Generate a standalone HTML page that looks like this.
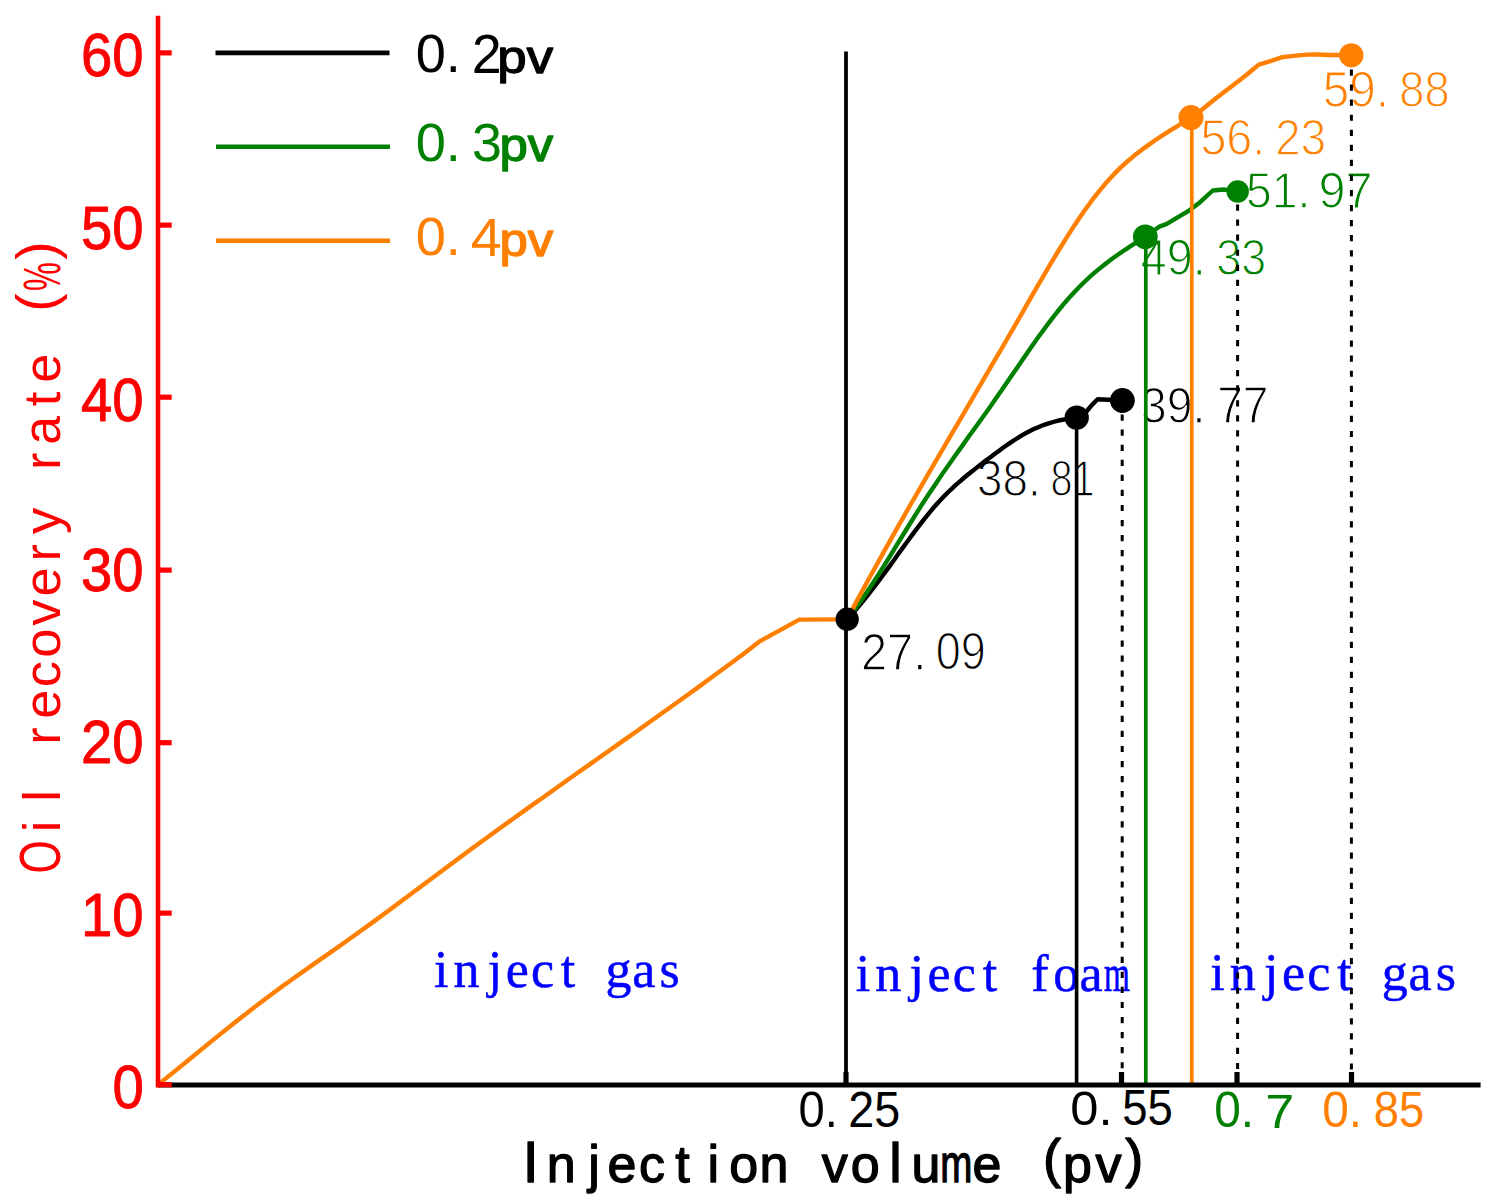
<!DOCTYPE html>
<html><head><meta charset="utf-8"><title>Oil recovery rate chart</title><style>html,body{margin:0;padding:0;background:#fff;width:1497px;height:1204px;overflow:hidden}svg{display:block}body{font-family:"Liberation Sans",sans-serif}</style></head><body>
<svg width="1497" height="1204" viewBox="0 0 1497 1204">
<rect width="1497" height="1204" fill="#fff"/>
<text transform="matrix(0.93 0 0 1 81.05 76.14)" font-family="'Liberation Sans', sans-serif" font-size="60.56" fill="#ff0000" stroke="#ff0000" stroke-width="0.9" stroke-linejoin="round">60</text>
<text transform="matrix(0.93 0 0 1 81.05 248.54)" font-family="'Liberation Sans', sans-serif" font-size="60.56" fill="#ff0000" stroke="#ff0000" stroke-width="0.9" stroke-linejoin="round">50</text>
<text transform="matrix(0.93 0 0 1 81.05 420.64)" font-family="'Liberation Sans', sans-serif" font-size="60.56" fill="#ff0000" stroke="#ff0000" stroke-width="0.9" stroke-linejoin="round">40</text>
<text transform="matrix(0.93 0 0 1 81.05 591.49)" font-family="'Liberation Sans', sans-serif" font-size="60.56" fill="#ff0000" stroke="#ff0000" stroke-width="0.9" stroke-linejoin="round">30</text>
<text transform="matrix(0.93 0 0 1 81.05 763.49)" font-family="'Liberation Sans', sans-serif" font-size="60.56" fill="#ff0000" stroke="#ff0000" stroke-width="0.9" stroke-linejoin="round">20</text>
<text transform="matrix(0.93 0 0 1 81.05 935.89)" font-family="'Liberation Sans', sans-serif" font-size="60.56" fill="#ff0000" stroke="#ff0000" stroke-width="0.9" stroke-linejoin="round">10</text>
<text transform="matrix(0.93 0 0 1 112.59 1107.89)" font-family="'Liberation Sans', sans-serif" font-size="60.56" fill="#ff0000" stroke="#ff0000" stroke-width="0.9" stroke-linejoin="round">0</text>
<text transform="matrix(0 -0.7395 1 0 59.80 873.60)" font-family="'Liberation Sans', sans-serif" font-weight="normal" font-size="57.75" fill="#ff0000">O</text>
<text transform="matrix(0 -1.0000 1 0 59.80 832.27)" font-family="'Liberation Sans', sans-serif" font-weight="normal" font-size="52.50" fill="#ff0000">i</text>
<text transform="matrix(0 -1.0000 1 0 59.80 801.74)" font-family="'Liberation Sans', sans-serif" font-weight="normal" font-size="52.50" fill="#ff0000">l</text>
<text transform="matrix(0 -1.0000 1 0 59.80 744.85)" font-family="'Liberation Sans', sans-serif" font-weight="normal" font-size="52.50" fill="#ff0000">r</text>
<text transform="matrix(0 -1.0000 1 0 59.80 718.80)" font-family="'Liberation Sans', sans-serif" font-weight="normal" font-size="52.50" fill="#ff0000">e</text>
<text transform="matrix(0 -1.0000 1 0 59.80 687.25)" font-family="'Liberation Sans', sans-serif" font-weight="normal" font-size="52.50" fill="#ff0000">c</text>
<text transform="matrix(0 -1.0000 1 0 59.80 657.75)" font-family="'Liberation Sans', sans-serif" font-weight="normal" font-size="52.50" fill="#ff0000">o</text>
<text transform="matrix(0 -1.0000 1 0 59.80 625.73)" font-family="'Liberation Sans', sans-serif" font-weight="normal" font-size="52.50" fill="#ff0000">v</text>
<text transform="matrix(0 -1.0000 1 0 59.80 596.60)" font-family="'Liberation Sans', sans-serif" font-weight="normal" font-size="52.50" fill="#ff0000">e</text>
<text transform="matrix(0 -1.0000 1 0 59.80 561.55)" font-family="'Liberation Sans', sans-serif" font-weight="normal" font-size="52.50" fill="#ff0000">r</text>
<text transform="matrix(0 -1.0000 1 0 59.80 534.09)" font-family="'Liberation Sans', sans-serif" font-weight="normal" font-size="52.50" fill="#ff0000">y</text>
<text transform="matrix(0 -1.0000 1 0 59.80 469.90)" font-family="'Liberation Sans', sans-serif" font-weight="normal" font-size="52.50" fill="#ff0000">r</text>
<text transform="matrix(0 -0.9827 1 0 59.80 444.74)" font-family="'Liberation Sans', sans-serif" font-weight="normal" font-size="52.50" fill="#ff0000">a</text>
<text transform="matrix(0 -1.0000 1 0 59.80 406.25)" font-family="'Liberation Sans', sans-serif" font-weight="normal" font-size="52.50" fill="#ff0000">t</text>
<text transform="matrix(0 -1.0000 1 0 59.80 382.75)" font-family="'Liberation Sans', sans-serif" font-weight="normal" font-size="52.50" fill="#ff0000">e</text>
<text transform="matrix(0 -1.0000 1 0 54.80 311.83)" font-family="'Liberation Sans', sans-serif" font-weight="normal" font-size="55.12" fill="#ff0000">(</text>
<text transform="matrix(0 -0.6172 1 0 59.80 290.95)" font-family="'Liberation Sans', sans-serif" font-weight="normal" font-size="52.50" fill="#ff0000">%</text>
<text transform="matrix(0 -1.0000 1 0 54.80 259.63)" font-family="'Liberation Sans', sans-serif" font-weight="normal" font-size="55.12" fill="#ff0000">)</text>
<text transform="matrix(1.0000 0 0 1 522.85 1182.40)" font-family="'Liberation Sans', sans-serif" font-weight="normal" font-size="57.20" fill="#000000" stroke="#000000" stroke-width="1.3" stroke-linejoin="round">I</text>
<text transform="matrix(1.0000 0 0 1 546.70 1182.40)" font-family="'Liberation Sans', sans-serif" font-weight="normal" font-size="52.00" fill="#000000" stroke="#000000" stroke-width="1.3" stroke-linejoin="round">n</text>
<text transform="matrix(1.0000 0 0 1 588.21 1182.40)" font-family="'Liberation Sans', sans-serif" font-weight="normal" font-size="52.00" fill="#000000" stroke="#000000" stroke-width="1.3" stroke-linejoin="round">j</text>
<text transform="matrix(1.0000 0 0 1 607.59 1182.40)" font-family="'Liberation Sans', sans-serif" font-weight="normal" font-size="52.00" fill="#000000" stroke="#000000" stroke-width="1.3" stroke-linejoin="round">e</text>
<text transform="matrix(1.0000 0 0 1 638.98 1182.40)" font-family="'Liberation Sans', sans-serif" font-weight="normal" font-size="52.00" fill="#000000" stroke="#000000" stroke-width="1.3" stroke-linejoin="round">c</text>
<text transform="matrix(1.0000 0 0 1 675.37 1182.40)" font-family="'Liberation Sans', sans-serif" font-weight="normal" font-size="52.00" fill="#000000" stroke="#000000" stroke-width="1.3" stroke-linejoin="round">t</text>
<text transform="matrix(1.0000 0 0 1 707.44 1182.40)" font-family="'Liberation Sans', sans-serif" font-weight="normal" font-size="52.00" fill="#000000" stroke="#000000" stroke-width="1.3" stroke-linejoin="round">i</text>
<text transform="matrix(1.0000 0 0 1 729.14 1182.40)" font-family="'Liberation Sans', sans-serif" font-weight="normal" font-size="52.00" fill="#000000" stroke="#000000" stroke-width="1.3" stroke-linejoin="round">o</text>
<text transform="matrix(1.0000 0 0 1 759.50 1182.40)" font-family="'Liberation Sans', sans-serif" font-weight="normal" font-size="52.00" fill="#000000" stroke="#000000" stroke-width="1.3" stroke-linejoin="round">n</text>
<text transform="matrix(1.0000 0 0 1 821.80 1182.40)" font-family="'Liberation Sans', sans-serif" font-weight="normal" font-size="52.00" fill="#000000" stroke="#000000" stroke-width="1.3" stroke-linejoin="round">v</text>
<text transform="matrix(1.0000 0 0 1 850.74 1182.40)" font-family="'Liberation Sans', sans-serif" font-weight="normal" font-size="52.00" fill="#000000" stroke="#000000" stroke-width="1.3" stroke-linejoin="round">o</text>
<text transform="matrix(1.0000 0 0 1 889.35 1182.40)" font-family="'Liberation Sans', sans-serif" font-weight="normal" font-size="56.16" fill="#000000" stroke="#000000" stroke-width="1.3" stroke-linejoin="round">l</text>
<text transform="matrix(1.0000 0 0 1 911.58 1182.40)" font-family="'Liberation Sans', sans-serif" font-weight="normal" font-size="52.00" fill="#000000" stroke="#000000" stroke-width="1.3" stroke-linejoin="round">u</text>
<text transform="matrix(0.7410 0 0 1 940.34 1182.40)" font-family="'Liberation Sans', sans-serif" font-weight="normal" font-size="52.00" fill="#000000" stroke="#000000" stroke-width="1.3" stroke-linejoin="round">m</text>
<text transform="matrix(1.0000 0 0 1 972.39 1182.40)" font-family="'Liberation Sans', sans-serif" font-weight="normal" font-size="52.00" fill="#000000" stroke="#000000" stroke-width="1.3" stroke-linejoin="round">e</text>
<text transform="matrix(1.0000 0 0 1 1043.08 1176.90)" font-family="'Liberation Sans', sans-serif" font-weight="normal" font-size="54.08" fill="#000000" stroke="#000000" stroke-width="1.3" stroke-linejoin="round">(</text>
<text transform="matrix(1.0000 0 0 1 1062.96 1182.40)" font-family="'Liberation Sans', sans-serif" font-weight="normal" font-size="52.00" fill="#000000" stroke="#000000" stroke-width="1.3" stroke-linejoin="round">p</text>
<text transform="matrix(1.0000 0 0 1 1095.40 1182.40)" font-family="'Liberation Sans', sans-serif" font-weight="normal" font-size="52.00" fill="#000000" stroke="#000000" stroke-width="1.3" stroke-linejoin="round">v</text>
<text transform="matrix(1.0000 0 0 1 1125.31 1176.90)" font-family="'Liberation Sans', sans-serif" font-weight="normal" font-size="54.08" fill="#000000" stroke="#000000" stroke-width="1.3" stroke-linejoin="round">)</text>
<text transform="matrix(1.0000 0 0 1 433.93 987.10)" font-family="'Liberation Serif', serif" font-weight="normal" font-size="52.00" fill="#0000ff" stroke="#0000ff" stroke-width="0.5" stroke-linejoin="round">i</text>
<text transform="matrix(1.0000 0 0 1 453.40 987.10)" font-family="'Liberation Serif', serif" font-weight="normal" font-size="52.00" fill="#0000ff" stroke="#0000ff" stroke-width="0.5" stroke-linejoin="round">n</text>
<text transform="matrix(1.0000 0 0 1 487.76 987.10)" font-family="'Liberation Serif', serif" font-weight="normal" font-size="52.00" fill="#0000ff" stroke="#0000ff" stroke-width="0.5" stroke-linejoin="round">j</text>
<text transform="matrix(1.0000 0 0 1 505.75 987.10)" font-family="'Liberation Serif', serif" font-weight="normal" font-size="52.00" fill="#0000ff" stroke="#0000ff" stroke-width="0.5" stroke-linejoin="round">e</text>
<text transform="matrix(1.0000 0 0 1 531.07 987.10)" font-family="'Liberation Serif', serif" font-weight="normal" font-size="52.00" fill="#0000ff" stroke="#0000ff" stroke-width="0.5" stroke-linejoin="round">c</text>
<text transform="matrix(1.0000 0 0 1 560.87 987.10)" font-family="'Liberation Serif', serif" font-weight="normal" font-size="52.00" fill="#0000ff" stroke="#0000ff" stroke-width="0.5" stroke-linejoin="round">t</text>
<text transform="matrix(1.0000 0 0 1 605.38 987.10)" font-family="'Liberation Serif', serif" font-weight="normal" font-size="52.00" fill="#0000ff" stroke="#0000ff" stroke-width="0.5" stroke-linejoin="round">g</text>
<text transform="matrix(1.0000 0 0 1 632.30 987.10)" font-family="'Liberation Serif', serif" font-weight="normal" font-size="52.00" fill="#0000ff" stroke="#0000ff" stroke-width="0.5" stroke-linejoin="round">a</text>
<text transform="matrix(1.0000 0 0 1 659.55 987.10)" font-family="'Liberation Serif', serif" font-weight="normal" font-size="52.00" fill="#0000ff" stroke="#0000ff" stroke-width="0.5" stroke-linejoin="round">s</text>
<text transform="matrix(1.0000 0 0 1 855.73 990.80)" font-family="'Liberation Serif', serif" font-weight="normal" font-size="52.00" fill="#0000ff" stroke="#0000ff" stroke-width="0.5" stroke-linejoin="round">i</text>
<text transform="matrix(1.0000 0 0 1 875.20 990.80)" font-family="'Liberation Serif', serif" font-weight="normal" font-size="52.00" fill="#0000ff" stroke="#0000ff" stroke-width="0.5" stroke-linejoin="round">n</text>
<text transform="matrix(1.0000 0 0 1 909.56 990.80)" font-family="'Liberation Serif', serif" font-weight="normal" font-size="52.00" fill="#0000ff" stroke="#0000ff" stroke-width="0.5" stroke-linejoin="round">j</text>
<text transform="matrix(1.0000 0 0 1 927.55 990.80)" font-family="'Liberation Serif', serif" font-weight="normal" font-size="52.00" fill="#0000ff" stroke="#0000ff" stroke-width="0.5" stroke-linejoin="round">e</text>
<text transform="matrix(1.0000 0 0 1 952.87 990.80)" font-family="'Liberation Serif', serif" font-weight="normal" font-size="52.00" fill="#0000ff" stroke="#0000ff" stroke-width="0.5" stroke-linejoin="round">c</text>
<text transform="matrix(1.0000 0 0 1 982.67 990.80)" font-family="'Liberation Serif', serif" font-weight="normal" font-size="52.00" fill="#0000ff" stroke="#0000ff" stroke-width="0.5" stroke-linejoin="round">t</text>
<text transform="matrix(1.0000 0 0 1 1031.34 990.80)" font-family="'Liberation Serif', serif" font-weight="normal" font-size="52.00" fill="#0000ff" stroke="#0000ff" stroke-width="0.5" stroke-linejoin="round">f</text>
<text transform="matrix(1.0000 0 0 1 1053.20 990.80)" font-family="'Liberation Serif', serif" font-weight="normal" font-size="52.00" fill="#0000ff" stroke="#0000ff" stroke-width="0.5" stroke-linejoin="round">o</text>
<text transform="matrix(1.0000 0 0 1 1079.50 990.80)" font-family="'Liberation Serif', serif" font-weight="normal" font-size="52.00" fill="#0000ff" stroke="#0000ff" stroke-width="0.5" stroke-linejoin="round">a</text>
<text transform="matrix(0.6486 0 0 1 1103.79 990.80)" font-family="'Liberation Serif', serif" font-weight="normal" font-size="52.00" fill="#0000ff" stroke="#0000ff" stroke-width="0.5" stroke-linejoin="round">m</text>
<text transform="matrix(1.0000 0 0 1 1210.23 990.40)" font-family="'Liberation Serif', serif" font-weight="normal" font-size="52.00" fill="#0000ff" stroke="#0000ff" stroke-width="0.5" stroke-linejoin="round">i</text>
<text transform="matrix(1.0000 0 0 1 1229.70 990.40)" font-family="'Liberation Serif', serif" font-weight="normal" font-size="52.00" fill="#0000ff" stroke="#0000ff" stroke-width="0.5" stroke-linejoin="round">n</text>
<text transform="matrix(1.0000 0 0 1 1264.06 990.40)" font-family="'Liberation Serif', serif" font-weight="normal" font-size="52.00" fill="#0000ff" stroke="#0000ff" stroke-width="0.5" stroke-linejoin="round">j</text>
<text transform="matrix(1.0000 0 0 1 1282.05 990.40)" font-family="'Liberation Serif', serif" font-weight="normal" font-size="52.00" fill="#0000ff" stroke="#0000ff" stroke-width="0.5" stroke-linejoin="round">e</text>
<text transform="matrix(1.0000 0 0 1 1307.37 990.40)" font-family="'Liberation Serif', serif" font-weight="normal" font-size="52.00" fill="#0000ff" stroke="#0000ff" stroke-width="0.5" stroke-linejoin="round">c</text>
<text transform="matrix(1.0000 0 0 1 1337.17 990.40)" font-family="'Liberation Serif', serif" font-weight="normal" font-size="52.00" fill="#0000ff" stroke="#0000ff" stroke-width="0.5" stroke-linejoin="round">t</text>
<text transform="matrix(1.0000 0 0 1 1381.68 990.40)" font-family="'Liberation Serif', serif" font-weight="normal" font-size="52.00" fill="#0000ff" stroke="#0000ff" stroke-width="0.5" stroke-linejoin="round">g</text>
<text transform="matrix(1.0000 0 0 1 1408.60 990.40)" font-family="'Liberation Serif', serif" font-weight="normal" font-size="52.00" fill="#0000ff" stroke="#0000ff" stroke-width="0.5" stroke-linejoin="round">a</text>
<text transform="matrix(1.0000 0 0 1 1435.85 990.40)" font-family="'Liberation Serif', serif" font-weight="normal" font-size="52.00" fill="#0000ff" stroke="#0000ff" stroke-width="0.5" stroke-linejoin="round">s</text>
<text transform="matrix(0.9941 0 0 1 415.63 72.25)" font-family="'Liberation Sans', sans-serif" font-weight="normal" font-size="54.51" fill="#000000" xml:space="preserve">0.</text>
<text transform="matrix(0.9740 0 0 1 471.81 72.80)" font-family="'Liberation Sans', sans-serif" font-weight="normal" font-size="55.29" fill="#000000" xml:space="preserve">2</text>
<text transform="matrix(1.1343 0 0 1 497.37 73.00)" font-family="'Liberation Sans', sans-serif" font-weight="normal" font-size="46.54" fill="#000000" stroke="#000000" stroke-width="1.31" stroke-linejoin="round" xml:space="preserve">pv</text>
<text transform="matrix(0.9992 0 0 1 415.63 160.96)" font-family="'Liberation Sans', sans-serif" font-weight="normal" font-size="54.23" fill="#008000" xml:space="preserve">0.</text>
<text transform="matrix(0.9927 0 0 1 471.95 160.96)" font-family="'Liberation Sans', sans-serif" font-weight="normal" font-size="54.23" fill="#008000" xml:space="preserve">3</text>
<text transform="matrix(1.0885 0 0 1 499.39 161.30)" font-family="'Liberation Sans', sans-serif" font-weight="normal" font-size="46.73" fill="#008000" stroke="#008000" stroke-width="1.34" stroke-linejoin="round" xml:space="preserve">pv</text>
<text transform="matrix(1.0259 0 0 1 415.63 255.27)" font-family="'Liberation Sans', sans-serif" font-weight="normal" font-size="52.82" fill="#ff7f00" xml:space="preserve">0.</text>
<text transform="matrix(1.0267 0 0 1 470.71 255.80)" font-family="'Liberation Sans', sans-serif" font-weight="normal" font-size="54.35" fill="#ff7f00" xml:space="preserve">4</text>
<text transform="matrix(1.1198 0 0 1 499.39 255.60)" font-family="'Liberation Sans', sans-serif" font-weight="normal" font-size="45.42" fill="#ff7f00" stroke="#ff7f00" stroke-width="1.32" stroke-linejoin="round" xml:space="preserve">pv</text>
<text transform="matrix(0.9609 0 0 1 798.51 1127.41)" font-family="'Liberation Sans', sans-serif" font-weight="normal" font-size="49.15" fill="#000000" xml:space="preserve">0.</text>
<text transform="matrix(0.9514 0 0 1 848.16 1127.41)" font-family="'Liberation Sans', sans-serif" font-weight="normal" font-size="49.15" fill="#000000" xml:space="preserve">25</text>
<text transform="matrix(1.0421 0 0 1 1070.37 1125.41)" font-family="'Liberation Sans', sans-serif" font-weight="normal" font-size="48.59" fill="#000000" xml:space="preserve">0.</text>
<text transform="matrix(0.9239 0 0 1 1122.28 1125.41)" font-family="'Liberation Sans', sans-serif" font-weight="normal" font-size="49.29" fill="#000000" xml:space="preserve">55</text>
<text transform="matrix(0.9725 0 0 1 1214.29 1127.41)" font-family="'Liberation Sans', sans-serif" font-weight="normal" font-size="49.15" fill="#008000" xml:space="preserve">0.</text>
<text transform="matrix(1.0665 0 0 1 1265.30 1127.50)" font-family="'Liberation Sans', sans-serif" font-weight="normal" font-size="48.84" fill="#008000" xml:space="preserve">7</text>
<text transform="matrix(0.9614 0 0 1 1322.29 1127.40)" font-family="'Liberation Sans', sans-serif" font-weight="normal" font-size="49.72" fill="#ff7f00" xml:space="preserve">0.</text>
<text transform="matrix(0.9125 0 0 1 1373.86 1127.40)" font-family="'Liberation Sans', sans-serif" font-weight="normal" font-size="49.72" fill="#ff7f00" xml:space="preserve">85</text>
<text transform="matrix(0.9081 0 0 1 860.95 670.00)" font-family="'Liberation Sans', sans-serif" font-weight="normal" font-size="51.71" fill="#000000" stroke="#fff" stroke-width="1.26" stroke-linejoin="round" xml:space="preserve">27.</text>
<text transform="matrix(0.8821 0 0 1 935.80 669.49)" font-family="'Liberation Sans', sans-serif" font-weight="normal" font-size="50.99" fill="#000000" stroke="#fff" stroke-width="1.28" stroke-linejoin="round" xml:space="preserve">09</text>
<text transform="matrix(0.9316 0 0 1 976.97 495.51)" font-family="'Liberation Sans', sans-serif" font-weight="normal" font-size="49.15" fill="#000000" stroke="#fff" stroke-width="1.24" stroke-linejoin="round" xml:space="preserve">38.</text>
<text transform="matrix(0.8058 0 0 1 1050.42 495.51)" font-family="'Liberation Sans', sans-serif" font-weight="normal" font-size="49.15" fill="#000000" stroke="#fff" stroke-width="1.34" stroke-linejoin="round" xml:space="preserve">81</text>
<text transform="matrix(0.9135 0 0 1 1141.05 422.69)" font-family="'Liberation Sans', sans-serif" font-weight="normal" font-size="50.56" fill="#000000" stroke="#fff" stroke-width="1.26" stroke-linejoin="round" xml:space="preserve">39.</text>
<text transform="matrix(0.8868 0 0 1 1217.19 423.20)" font-family="'Liberation Sans', sans-serif" font-weight="normal" font-size="52.03" fill="#000000" stroke="#fff" stroke-width="1.27" stroke-linejoin="round" xml:space="preserve">77</text>
<text transform="matrix(0.9375 0 0 1 1140.73 274.70)" font-family="'Liberation Sans', sans-serif" font-weight="normal" font-size="49.86" fill="#008000" stroke="#fff" stroke-width="1.24" stroke-linejoin="round" xml:space="preserve">49.</text>
<text transform="matrix(0.8977 0 0 1 1216.31 274.70)" font-family="'Liberation Sans', sans-serif" font-weight="normal" font-size="49.86" fill="#008000" stroke="#fff" stroke-width="1.27" stroke-linejoin="round" xml:space="preserve">33</text>
<text transform="matrix(0.9280 0 0 1 1245.95 207.70)" font-family="'Liberation Sans', sans-serif" font-weight="normal" font-size="49.86" fill="#008000" stroke="#fff" stroke-width="1.25" stroke-linejoin="round" xml:space="preserve">51.</text>
<text transform="matrix(0.9881 0 0 1 1318.61 207.71)" font-family="'Liberation Sans', sans-serif" font-weight="normal" font-size="49.15" fill="#008000" stroke="#fff" stroke-width="1.21" stroke-linejoin="round" xml:space="preserve">97</text>
<text transform="matrix(0.9255 0 0 1 1200.43 154.50)" font-family="'Liberation Sans', sans-serif" font-weight="normal" font-size="50.42" fill="#ff7f00" stroke="#fff" stroke-width="1.25" stroke-linejoin="round" xml:space="preserve">56.</text>
<text transform="matrix(0.9061 0 0 1 1275.32 154.50)" font-family="'Liberation Sans', sans-serif" font-weight="normal" font-size="50.42" fill="#ff7f00" stroke="#fff" stroke-width="1.26" stroke-linejoin="round" xml:space="preserve">23</text>
<text transform="matrix(0.9460 0 0 1 1322.79 106.70)" font-family="'Liberation Sans', sans-serif" font-weight="normal" font-size="50.42" fill="#ff7f00" stroke="#fff" stroke-width="1.23" stroke-linejoin="round" xml:space="preserve">59.</text>
<text transform="matrix(0.8997 0 0 1 1399.36 106.70)" font-family="'Liberation Sans', sans-serif" font-weight="normal" font-size="50.42" fill="#ff7f00" stroke="#fff" stroke-width="1.27" stroke-linejoin="round" xml:space="preserve">88</text>
<line x1="215.5" y1="52.8" x2="389.5" y2="52.8" stroke="#000000" stroke-width="4.8" />
<line x1="216" y1="146.8" x2="390" y2="146.8" stroke="#008000" stroke-width="4.6" />
<line x1="216" y1="240.8" x2="390" y2="240.8" stroke="#ff7f00" stroke-width="4.6" />
<polyline points="847.2,619.0 851.1,614.9 855.0,610.6 858.9,606.1 862.8,601.4 866.6,596.6 870.5,591.7 874.4,586.6 878.3,581.5 882.2,576.2 886.1,570.9 890.0,565.6 893.9,560.2 897.7,554.8 901.6,549.4 905.5,544.0 909.4,538.7 913.3,533.4 917.2,528.2 921.1,523.1 925.0,518.1 928.9,513.3 932.7,508.7 936.6,504.2 940.5,499.9 944.4,495.8 948.3,492.0 952.2,488.3 956.1,484.7 960.0,481.3 963.8,478.0 967.7,474.8 971.6,471.7 975.5,468.6 979.4,465.6 983.3,462.6 987.2,459.6 991.1,456.7 994.9,453.8 998.8,450.9 1002.7,448.0 1006.6,445.3 1010.5,442.6 1014.4,440.0 1018.3,437.6 1022.2,435.2 1026.1,433.0 1029.9,431.0 1033.8,429.1 1037.7,427.4 1041.6,425.8 1045.5,424.4 1049.4,423.1 1053.3,422.0 1057.2,420.9 1061.0,420.0 1064.9,419.3 1068.8,418.6 1072.7,418.0 1076.6,417.5 1086.9,411.0 1092.2,404.6 1097.6,399.2 1108.3,399.8 1122.4,400.5" fill="none" stroke="#000000" stroke-width="4.4" stroke-linejoin="round" stroke-linecap="round"/>
<polyline points="847.2,619.0 854.0,610.3 860.8,601.1 867.5,591.3 874.3,581.0 881.1,570.4 887.9,559.6 894.6,548.6 901.4,537.5 908.2,526.5 915.0,515.6 921.7,504.9 928.5,494.5 935.3,484.4 942.0,474.4 948.8,464.7 955.6,455.1 962.4,445.6 969.1,436.1 975.9,426.7 982.7,417.2 989.5,407.7 996.2,398.0 1003.0,388.2 1009.8,378.3 1016.6,368.4 1023.4,358.5 1030.1,348.7 1036.9,339.1 1043.7,329.7 1050.5,320.7 1057.2,312.0 1064.0,303.7 1070.8,295.9 1077.5,288.7 1084.3,282.0 1091.1,275.7 1097.9,269.9 1104.7,264.5 1111.4,259.3 1118.2,254.5 1125.0,249.8 1131.8,245.4 1138.5,241.1 1145.3,236.8 1159.9,226.3 1166.3,224.2 1189.0,210.6 1199.8,202.4 1212.8,190.5 1223.7,189.5 1237.7,191.5" fill="none" stroke="#008000" stroke-width="4.4" stroke-linejoin="round" stroke-linecap="round"/>
<polyline points="847.2,619.0 854.2,605.9 861.2,592.9 868.2,580.0 875.3,567.2 882.3,554.6 889.3,542.1 896.3,529.7 903.3,517.3 910.3,505.0 917.4,492.9 924.4,480.7 931.4,468.6 938.4,456.6 945.4,444.6 952.4,432.6 959.5,420.6 966.5,408.6 973.5,396.6 980.5,384.7 987.5,372.7 994.5,360.6 1001.6,348.6 1008.6,336.5 1015.6,324.4 1022.6,312.2 1029.6,299.9 1036.6,287.7 1043.7,275.7 1050.7,263.7 1057.7,252.0 1064.7,240.6 1071.7,229.6 1078.7,219.0 1085.8,208.8 1092.8,199.2 1099.8,190.3 1106.8,182.0 1113.8,174.4 1120.8,167.4 1127.9,161.0 1134.9,155.1 1141.9,149.7 1148.9,144.6 1155.9,139.8 1162.9,135.2 1170.0,130.7 1177.0,126.4 1184.0,122.0 1191.0,117.6 1202.1,109.5 1216.0,98.3 1232.1,86.0 1246.0,75.3 1258.8,64.6 1269.5,61.4 1282.3,57.1 1296.2,55.6 1306.9,54.6 1317.6,54.5 1328.3,55.0 1339.0,55.0 1351.3,55.3" fill="none" stroke="#ff7f00" stroke-width="4.4" stroke-linejoin="round" stroke-linecap="round"/>
<polyline points="158.3,1084.4 173.7,1072.1 189.2,1059.5 204.6,1046.9 220.0,1034.4 235.5,1022.0 250.9,1009.9 266.3,998.2 281.7,986.8 297.2,975.8 312.6,964.9 328.0,954.1 343.5,943.2 358.9,932.3 374.3,921.1 389.8,909.7 405.2,898.3 420.6,886.7 436.1,875.2 451.5,863.7 466.9,852.2 482.3,840.9 497.8,829.8 513.2,818.7 528.6,807.6 544.1,796.7 559.5,785.7 574.9,774.8 590.4,763.9 605.8,753.0 621.2,742.1 636.7,731.2 652.1,720.2 667.5,709.2 682.9,698.2 698.4,687.1 713.8,675.8 729.2,664.4 744.7,652.9 760.1,641.1 780.2,630.1 799.2,619.6 847.2,619.4" fill="none" stroke="#ff7f00" stroke-width="4.4" stroke-linejoin="round" stroke-linecap="round"/>
<line x1="846.0" y1="51.4" x2="846.0" y2="1085.0" stroke="#000000" stroke-width="3.8" />
<line x1="1076.6" y1="417.5" x2="1076.6" y2="1085.0" stroke="#000000" stroke-width="3.6" />
<line x1="1145.8" y1="236.8" x2="1145.8" y2="1085.0" stroke="#008000" stroke-width="3.7" />
<line x1="1191.8" y1="117.6" x2="1191.8" y2="1085.0" stroke="#ff7f00" stroke-width="3.7" />
<line x1="1122.2" y1="399.5" x2="1122.2" y2="1072" stroke="#000000" stroke-width="3.0" stroke-dasharray="6.2 8.86"/>
<line x1="1237.6" y1="189.4" x2="1237.6" y2="1072" stroke="#000000" stroke-width="3.0" stroke-dasharray="6.2 8.86"/>
<line x1="1351.4" y1="54.4" x2="1351.4" y2="1072" stroke="#000000" stroke-width="3.0" stroke-dasharray="6.2 8.86"/>
<line x1="158.0" y1="1085.0" x2="1480.6" y2="1085.0" stroke="#000000" stroke-width="5.2" />
<line x1="846.0" y1="1072.0" x2="846.0" y2="1085.0" stroke="#000000" stroke-width="5.2" />
<line x1="1121.5" y1="1072.0" x2="1121.5" y2="1085.0" stroke="#000000" stroke-width="5.2" />
<line x1="1237.0" y1="1072.0" x2="1237.0" y2="1085.0" stroke="#000000" stroke-width="5.2" />
<line x1="1351.5" y1="1072.0" x2="1351.5" y2="1085.0" stroke="#000000" stroke-width="5.2" />
<line x1="158.0" y1="15.7" x2="158.0" y2="1087.5" stroke="#ff0000" stroke-width="4.6" />
<line x1="158.0" y1="52.85" x2="171.7" y2="52.85" stroke="#ff0000" stroke-width="5.2" />
<line x1="158.0" y1="225.1" x2="171.7" y2="225.1" stroke="#ff0000" stroke-width="5.2" />
<line x1="158.0" y1="397.2" x2="171.7" y2="397.2" stroke="#ff0000" stroke-width="5.2" />
<line x1="158.0" y1="570.1" x2="171.7" y2="570.1" stroke="#ff0000" stroke-width="5.2" />
<line x1="158.0" y1="742.7" x2="171.7" y2="742.7" stroke="#ff0000" stroke-width="5.2" />
<line x1="158.0" y1="913.1" x2="171.7" y2="913.1" stroke="#ff0000" stroke-width="5.2" />
<line x1="158.0" y1="1084.7" x2="171.7" y2="1084.7" stroke="#ff0000" stroke-width="5.2" />
<circle cx="847.2" cy="619.2" r="11.6" fill="#000000"/>
<circle cx="1076.7" cy="417.6" r="12.2" fill="#000000"/>
<circle cx="1122.4" cy="400.5" r="12.4" fill="#000000"/>
<circle cx="1145.3" cy="236.8" r="12.4" fill="#008000"/>
<circle cx="1237.7" cy="191.5" r="11.2" fill="#008000"/>
<circle cx="1191.0" cy="117.6" r="12.5" fill="#ff7f00"/>
<circle cx="1351.3" cy="55.3" r="12.1" fill="#ff7f00"/>
</svg>
</body></html>
